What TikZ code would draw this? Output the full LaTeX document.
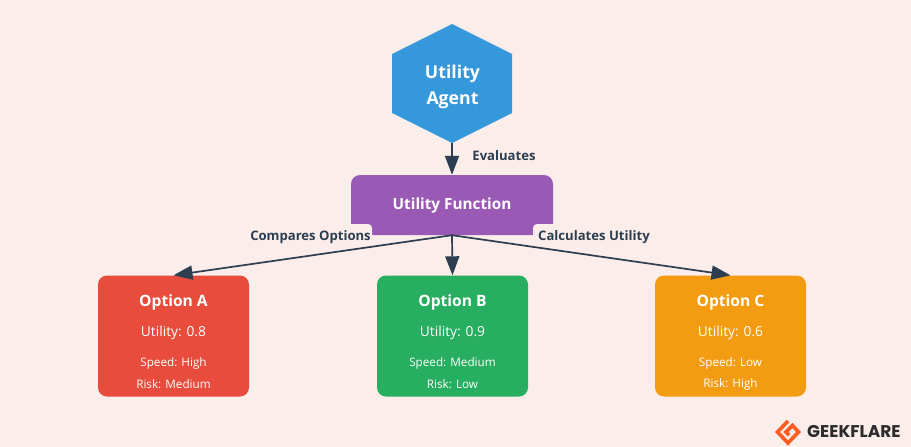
\documentclass[tikz,border=0pt]{standalone}
\usepackage{fontspec}
\setmainfont{Open Sans}
\newfontfamily\logofont{Poppins}
\usetikzlibrary{arrows.meta}
\definecolor{pagebg}{HTML}{FAEDEA}
\definecolor{inkdark}{HTML}{2C3E50}
\definecolor{agentblue}{HTML}{3498DB}
\definecolor{funcpurple}{HTML}{9B59B6}
\definecolor{optred}{HTML}{E74C3C}
\definecolor{optgreen}{HTML}{27AE60}
\definecolor{optorange}{HTML}{F39C12}
\definecolor{logoorange}{HTML}{FF5A1F}
\definecolor{logoink}{HTML}{2B2B2B}
\newcommand{\fs}[1]{\fontsize{#1}{#1}\selectfont}
\tikzset{
  x=1pt,y=-1pt,
  card/.style={minimum width=151pt,minimum height=121pt,rounded corners=9pt,inner sep=0pt,draw=none},
  cardtitle/.style={text=white,font=\fs{15.6}\bfseries,inner sep=0pt},
  cardutil/.style={text=white,font=\fs{13.8},inner sep=0pt},
  cardsmall/.style={text=white,font=\fs{11.7},inner sep=0pt},
  edgelabel/.style={text=inkdark,font=\fs{13.1}\bfseries,inner sep=0pt},
  flow/.style={draw=inkdark,line width=1.7pt,-{Triangle[length=19pt,width=14pt]},shorten >=0pt},
}
\begin{document}
\begin{tikzpicture}
\useasboundingbox (0,0) rectangle (911,447);
\fill[pagebg] (0,0) rectangle (911,447);
% hexagon
\fill[agentblue] (452,24) -- (512,54) -- (512,113) -- (452,143) -- (392,113) -- (392,54) -- cycle;
\node[minimum width=120pt,minimum height=119pt,inner sep=0pt] (agent) at (452,83.5) {};
\node[text=white,font=\fs{17.7}\bfseries,inner sep=0pt] (agent1) at (452.5,74) {Utility};
\node[text=white,font=\fs{17.7}\bfseries,inner sep=0pt] (agent2) at (452.5,100) {Agent};
% function
\node[fill=funcpurple,minimum width=202pt,minimum height=60pt,rounded corners=9pt,inner sep=0pt] (func) at (452,205) {};
\node[text=white,font=\fs{15.3}\bfseries,inner sep=0pt] (functxt) at (452,206) {Utility Function};
% labels with page-coloured plates
\node[fill=pagebg,rounded corners=4pt,minimum width=126pt,minimum height=22pt,inner sep=0pt] (plateL) at (309,235) {};
\node[fill=pagebg,rounded corners=4pt,minimum width=120pt,minimum height=22pt,inner sep=0pt] (plateR) at (593,235) {};
\node[edgelabel] (lblE) at (504,156) {Evaluates};
\node[edgelabel] (lblL) at (310.5,237) {Compares Options};
\node[edgelabel] (lblR) at (594,237) {Calculates Utility};
% cards
\node[card,fill=optred] (a) at (173.5,336) {};
\node[card,fill=optgreen] (b) at (452.5,336) {};
\node[card,fill=optorange] (c) at (730.5,336) {};
\foreach \n/\cx/\t/\u/\s/\r in {a/173.5/Option A/0.8/High/Medium,b/452.5/Option B/0.9/Medium/Low,c/730.5/Option C/0.6/Low/High}{
  \node[cardtitle] (\n t) at (\cx,302) {\t};
  \node[cardutil] (\n u) at (\cx,333) {Utility: \u};
  \node[cardsmall] (\n s) at (\cx,363.5) {Speed: \s};
  \node[cardsmall] (\n r) at (\cx,384) {Risk: \r};
}
% connectors
\draw[flow] (agent.south) -- (func.north);
\draw[flow] (func.south) -- (a.north);
\draw[flow] (func.south) -- (b.north);
\draw[flow] (func.south) -- (c.north);
% logo
\draw[logoorange,line width=3.6pt,line join=miter] (788,421) -- (777.5,432) -- (788,443) -- (798.5,432) -- (792.5,425.5) -- (786,432) -- (789,435);
\node[text=logoink,font=\logofont\fs{17}\bfseries,inner sep=0pt,anchor=west] (logo) at (807,432) {GEEKFLARE};
\end{tikzpicture}
\end{document}
